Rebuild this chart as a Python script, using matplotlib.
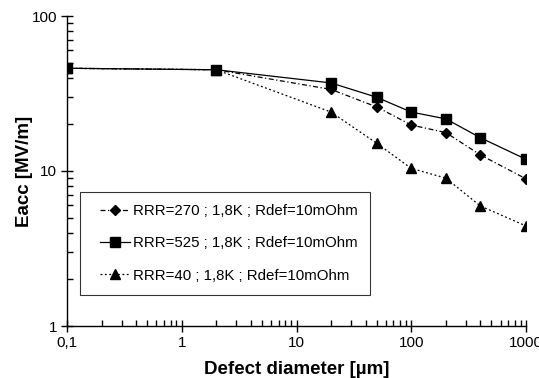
import matplotlib
matplotlib.use("Agg")
import numpy as np
import matplotlib.pyplot as plt
from matplotlib.ticker import LogLocator, FuncFormatter, NullFormatter
from matplotlib.legend_handler import HandlerLine2D

plt.rcParams['font.family'] = ['Liberation Sans', 'DejaVu Sans']

diameter = [0.1, 2, 20, 50, 100, 200, 400, 1000]
rrr270 = [46, 45, 33.6, 25.9, 19.8, 17.7, 12.7, 8.9]
rrr525 = [46, 45, 37.0, 29.9, 24.0, 21.7, 16.4, 11.9]
rrr40 = [46, 45, 24.0, 15.1, 10.4, 9.0, 5.95, 4.42]
labels = ["RRR=270 ; 1,8K ; Rdef=10mOhm",
          "RRR=525 ; 1,8K ; Rdef=10mOhm",
          "RRR=40 ; 1,8K ; Rdef=10mOhm"]


class TrimHandler(HandlerLine2D):
    """Legend line handle with its left end trimmed (extra left padding)."""
    def __init__(self, trim=0.55, **kw):
        super().__init__(**kw)
        self.trim = trim

    def create_artists(self, legend, orig_handle, xdescent, ydescent, width,
                       height, fontsize, trans):
        arts = super().create_artists(legend, orig_handle, xdescent, ydescent,
                                      width, height, fontsize, trans)
        t = self.trim * fontsize
        x0, x1 = -xdescent + t, -xdescent + width
        xm = 0.5 * (x0 + x1)
        for a in arts:
            n = len(a.get_xdata())
            if n == 1:
                a.set_xdata([xm])
            elif n == 2:
                a.set_xdata([x0, x1])
            else:
                a.set_xdata(np.linspace(x0, x1, n))
        return arts


fig = plt.figure(figsize=(5.39, 3.78), dpi=100)
ax = fig.add_axes([67/539, 1-326/378, (526-67)/539, (326-16)/378])

ax.plot(diameter, rrr270, color='black', linestyle=(0, (4, 2, 1, 2)), linewidth=0.9,
        marker='D', markersize=5.5, label=labels[0])
ax.plot(diameter, rrr525, color='black', linestyle='-', linewidth=0.9,
        marker='s', markersize=7, label=labels[1])
ax.plot(diameter, rrr40, color='black', linestyle=(0, (1.5, 2)), linewidth=0.9,
        marker='^', markersize=7, label=labels[2])

ax.set_xscale('log')
ax.set_yscale('log')
ax.set_xlim(0.1, 1000)
ax.set_ylim(1, 100)

def fmt(v, pos):
    if v < 1:
        return ('%g' % v).replace('.', ',')
    return '%d' % v

ax.xaxis.set_major_locator(LogLocator(base=10))
ax.yaxis.set_major_locator(LogLocator(base=10))
ax.xaxis.set_major_formatter(FuncFormatter(fmt))
ax.yaxis.set_major_formatter(FuncFormatter(fmt))
ax.xaxis.set_minor_locator(LogLocator(base=10, subs=range(2, 10)))
ax.yaxis.set_minor_locator(LogLocator(base=10, subs=range(2, 10)))
ax.xaxis.set_minor_formatter(NullFormatter())
ax.yaxis.set_minor_formatter(NullFormatter())

ax.tick_params(which='major', direction='inout', length=8, width=1, labelsize=11, color='black', pad=3)
ax.tick_params(which='minor', direction='in', length=4, width=1, color='black')

for s in ['top', 'right']:
    ax.spines[s].set_visible(False)
for s in ['left', 'bottom']:
    ax.spines[s].set_color('black')
    ax.spines[s].set_linewidth(1)

ax.set_xlabel("Defect diameter [µm]", fontsize=13.5, fontweight='bold')
ax.set_ylabel("Eacc [MV/m]", fontsize=13.5, fontweight='bold')
ax.xaxis.set_label_coords(0.5, -(361-326)/310)
ax.yaxis.set_label_coords((33-67)/459, 0.5)

h = ax.get_legend_handles_labels()[0]
leg = ax.legend(h, labels, loc='upper left', bbox_to_anchor=((80-67)/459, (326-192)/310),
                frameon=True, fancybox=False, edgecolor='black', fontsize=10.8,
                handlelength=2.55, labelspacing=1.22, borderpad=0.8, handletextpad=0.2,
                borderaxespad=0, handler_map={type(h[0]): TrimHandler(trim=0.55)})
leg.get_frame().set_linewidth(0.8)

fig.savefig("out.png", dpi=100)
